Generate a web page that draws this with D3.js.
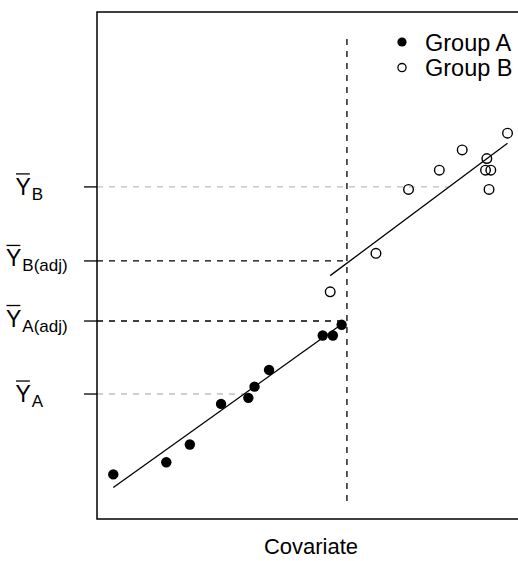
<!DOCTYPE html>
<html>
<head>
<meta charset="utf-8">
<script src="https://cdn.jsdelivr.net/npm/d3@7"></script>
<style>
  body { margin: 0; background: #fff; }
  text { font-family: "Liberation Sans", Arial, sans-serif; fill: #000; }
</style>
</head>
<body>
<div id="chart"></div>
<script>
// covariate (x) and outcome (y) values, arbitrary units 0-100
var groupA_x = [3.7, 15.75, 21.1, 28.2, 34.4, 35.8, 39.1, 51.3, 53.6, 55.6];
var groupA_y = [8.8, 11.2, 14.7, 22.7, 23.9, 26.1, 29.4, 36.2, 36.2, 38.3];
var groupB_x = [53.0, 63.4, 70.8, 77.8, 83.0, 88.6, 88.3, 89.5, 89.1, 93.3];
var groupB_y = [44.8, 52.4, 65.0, 68.8, 72.8, 71.1, 68.8, 68.8, 65.0, 76.1];

// fitted lines [x1, y1, x2, y2]
var lineA = [3.7, 6.2, 55.6, 38.4];
var lineB = [53.0, 48.0, 93.3, 74.1];

// group means of covariate, grand mean
var meanX_A = 33.9;
var meanX_B = 79.7;
var grandMeanX = 56.8;
var vlineRange = [3.55, 95.5];

// y tick labels
var tickNames = ["B", "B(adj)", "A(adj)", "A"];
var tickValues = [65.5, 50.9, 39.05, 24.65];

var legendLabels = ["Group A", "Group B"];

const width = 518, height = 561;
const margin = { left: 97, top: 12, right: -19, bottom: 42 };

let svg = d3.select('#chart').append('svg')
    .attr('width', width)
    .attr('height', height);

const x = d3.scaleLinear().domain([0, 100]).range([margin.left, width - margin.right]);
const y = d3.scaleLinear().domain([0, 100]).range([height - margin.bottom, margin.top]);

// grey dashed lines at raw group means
svg.append('line')
    .attr('x1', x(0)).attr('x2', x(meanX_B))
    .attr('y1', y(tickValues[0])).attr('y2', y(tickValues[0]))
    .style('stroke', '#bebebe').style('stroke-width', 1.3).style('stroke-dasharray', '6,6');
svg.append('line')
    .attr('x1', x(0)).attr('x2', x(meanX_A))
    .attr('y1', y(tickValues[3])).attr('y2', y(tickValues[3]))
    .style('stroke', '#bebebe').style('stroke-width', 1.3).style('stroke-dasharray', '6,6');

// black dashed lines at adjusted means
[tickValues[1], tickValues[2]].forEach(function (v) {
    svg.append('line')
        .attr('x1', x(0)).attr('x2', x(grandMeanX))
        .attr('y1', y(v)).attr('y2', y(v))
        .style('stroke', '#000').style('stroke-width', 1.3).style('stroke-dasharray', '6,6');
});

// vertical dashed line at grand mean covariate
svg.append('line')
    .attr('x1', x(grandMeanX)).attr('x2', x(grandMeanX))
    .attr('y1', y(vlineRange[0])).attr('y2', y(vlineRange[1]))
    .style('stroke', '#000').style('stroke-width', 1.3).style('stroke-dasharray', '6,6');

// regression lines
[lineA, lineB].forEach(function (l) {
    svg.append('line')
        .attr('x1', x(l[0])).attr('y1', y(l[1]))
        .attr('x2', x(l[2])).attr('y2', y(l[3]))
        .style('stroke', '#000').style('stroke-width', 1.3);
});

// points
svg.selectAll('.ptA').data(d3.zip(groupA_x, groupA_y)).enter().append('circle')
    .attr('class', 'ptA')
    .attr('cx', d => x(d[0])).attr('cy', d => y(d[1]))
    .attr('r', 5.2)
    .style('fill', '#000');

svg.selectAll('.ptB').data(d3.zip(groupB_x, groupB_y)).enter().append('circle')
    .attr('class', 'ptB')
    .attr('cx', d => x(d[0])).attr('cy', d => y(d[1]))
    .attr('r', 4.8)
    .style('fill', 'none').style('stroke', '#000').style('stroke-width', 1.4);

// box
svg.append('rect')
    .attr('x', x(0)).attr('y', y(100))
    .attr('width', x(100) - x(0)).attr('height', y(0) - y(100))
    .style('fill', 'none').style('stroke', '#000').style('stroke-width', 1.5);

// y ticks with bar-Y labels
tickNames.forEach(function (name, i) {
    const ty = y(tickValues[i]);
    const adj = name.length > 1;
    svg.append('line')
        .attr('x1', x(0) - 13).attr('x2', x(0))
        .attr('y1', ty).attr('y2', ty)
        .style('stroke', '#000').style('stroke-width', 1.3);

    const lx = adj ? 6 : 15.5;
    const base = ty + (adj ? 5.5 : 8);
    let yt = svg.append('text')
        .attr('x', lx).attr('y', base)
        .style('font-size', '23px')
        .text('Y');
    const w = yt.node().getComputedTextLength();
    svg.append('line')
        .attr('x1', lx + 0.5).attr('x2', lx + w - 1)
        .attr('y1', base - 21).attr('y2', base - 21)
        .style('stroke', '#000').style('stroke-width', 1.3);
    svg.append('text')
        .attr('x', lx + w + 1).attr('y', base + 5)
        .style('font-size', '17px')
        .text(name);
});

// legend
legendLabels.forEach(function (lab, i) {
    const ly = 42 + i * 25.6;
    svg.append('circle')
        .attr('cx', 402).attr('cy', ly)
        .attr('r', i === 0 ? 4.6 : 4.1)
        .style('fill', i === 0 ? '#000' : 'none')
        .style('stroke', '#000').style('stroke-width', i === 0 ? 0 : 1.3);
    svg.append('text')
        .attr('x', 425).attr('y', ly + 8.5)
        .style('font-size', '23.5px')
        .text(lab);
});

// x axis title
svg.append('text')
    .attr('x', (x(0) + x(100)) / 2 - 6).attr('y', 554)
    .attr('text-anchor', 'middle')
    .style('font-size', '22px')
    .text('Covariate');
</script>
</body>
</html>
